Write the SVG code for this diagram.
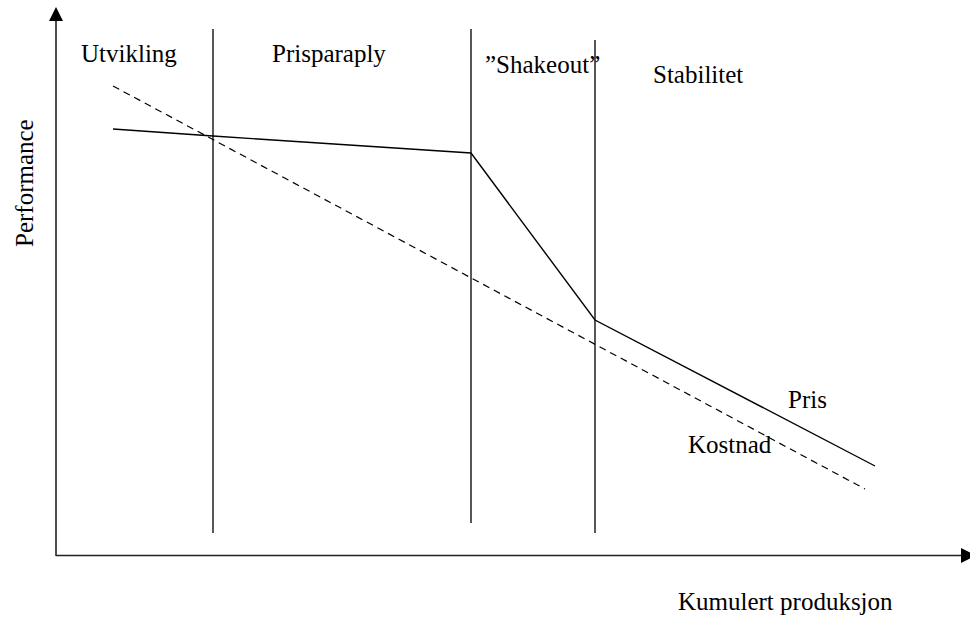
<svg xmlns="http://www.w3.org/2000/svg" width="970" height="620" viewBox="0 0 970 620">
  <style>
    .lbl { font-family: "Liberation Serif", "Times New Roman", serif; font-size: 25px; fill: #000; }
    .axis { stroke: #222; stroke-width: 1.6; fill: none; }
    .phase { stroke: #111; stroke-width: 1.4; fill: none; }
    .price { stroke: #000; stroke-width: 1.4; fill: none; stroke-linejoin: miter; }
    .cost { stroke: #000; stroke-width: 1.2; fill: none; stroke-dasharray: 7 5; }
  </style>
  <rect width="970" height="620" fill="#fff"/>

  <!-- axes -->
  <g id="axes">
    <line class="axis" x1="56" y1="556" x2="56" y2="20"/>
    <polygon points="56,7 49,21 63,21" fill="#000"/>
    <line class="axis" x1="56" y1="555.5" x2="962" y2="555.5"/>
    <polygon points="976,555.5 961,548 961,563" fill="#000"/>
  </g>

  <!-- phase dividers -->
  <g id="phases">
    <line class="phase" x1="213" y1="29" x2="213" y2="533"/>
    <line class="phase" x1="471" y1="29" x2="471" y2="523"/>
    <line class="phase" x1="595" y1="40" x2="595" y2="533"/>
  </g>

  <!-- curves -->
  <g id="connectors">
    <polyline id="pris-curve" class="price" points="113,129 213,136 471,153 595,320 875,466"/>
    <line id="kostnad-curve" class="cost" x1="113" y1="86" x2="865" y2="489"/>
  </g>

  <!-- labels -->
  <g id="labels">
    <text class="lbl" x="81" y="62">Utvikling</text>
    <text class="lbl" x="272" y="62">Prisparaply</text>
    <text class="lbl" x="485" y="73">”Shakeout”</text>
    <text class="lbl" x="653" y="83">Stabilitet</text>
    <text class="lbl" x="788" y="408">Pris</text>
    <text class="lbl" x="688" y="453">Kostnad</text>
    <text class="lbl" x="678" y="610">Kumulert produksjon</text>
    <text class="lbl" transform="translate(33,247) rotate(-90)">Performance</text>
  </g>
</svg>
